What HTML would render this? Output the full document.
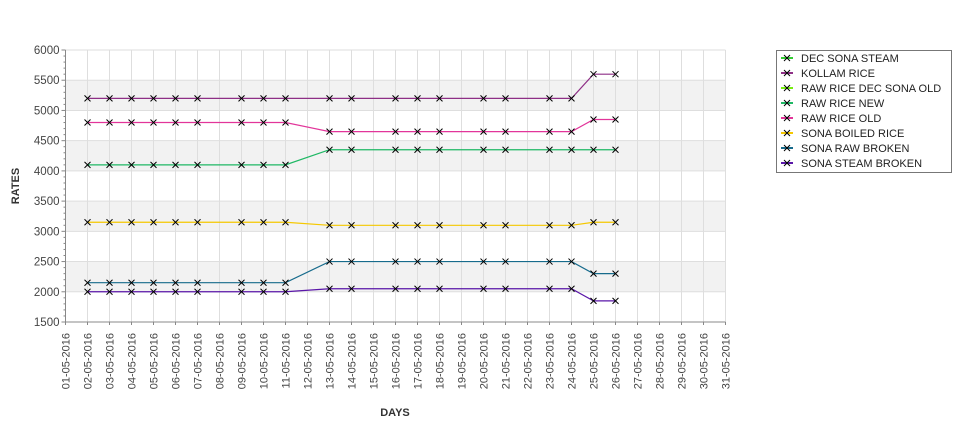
<!DOCTYPE html>
<html><head><meta charset="utf-8"><style>
body{margin:0;background:#fff;width:975px;height:429px;overflow:hidden}
svg{font-family:"Liberation Sans","DejaVu Sans",sans-serif}
</style></head><body>
<svg id="c" width="975" height="429"></svg>
<script>
const days=[2,3,4,5,6,7,9,10,11,13,14,16,17,18,20,21,23,24,25,26];
const seriesNames=["DEC SONA STEAM","KOLLAM RICE","RAW RICE DEC SONA OLD","RAW RICE NEW","RAW RICE OLD","SONA BOILED RICE","SONA RAW BROKEN","SONA STEAM BROKEN"];
const seriesColors=["#33cc33","#8e2f86","#77ee11","#1fb864","#e2359a","#f5c800","#176b8c","#5a16a8"];
const decSonaSteam=[];
const kollamRice=[5200,5200,5200,5200,5200,5200,5200,5200,5200,5200,5200,5200,5200,5200,5200,5200,5200,5200,5600,5600];
const rawRiceDecSonaOld=[];
const rawRiceNew=[4100,4100,4100,4100,4100,4100,4100,4100,4100,4350,4350,4350,4350,4350,4350,4350,4350,4350,4350,4350];
const rawRiceOld=[4800,4800,4800,4800,4800,4800,4800,4800,4800,4650,4650,4650,4650,4650,4650,4650,4650,4650,4850,4850];
const sonaBoiled=[3150,3150,3150,3150,3150,3150,3150,3150,3150,3100,3100,3100,3100,3100,3100,3100,3100,3100,3150,3150];
const sonaRawBroken=[2150,2150,2150,2150,2150,2150,2150,2150,2150,2500,2500,2500,2500,2500,2500,2500,2500,2500,2300,2300];
const sonaSteamBroken=[2000,2000,2000,2000,2000,2000,2000,2000,2000,2050,2050,2050,2050,2050,2050,2050,2050,2050,1850,1850];
const yTicks=[1500,2000,2500,3000,3500,4000,4500,5000,5500,6000];
const allSeries=[decSonaSteam,kollamRice,rawRiceDecSonaOld,rawRiceNew,rawRiceOld,sonaBoiled,sonaRawBroken,sonaSteamBroken];

const NS="http://www.w3.org/2000/svg",svg=document.getElementById('c');
const L=65.5,R=725.5,T=50,B=322;
const x=d=>L+(d-1)*(R-L)/30;
const y=v=>B-(v-1500)*(B-T)/4500;
function mk(t,a,p){const e=document.createElementNS(NS,t);for(const k in a)e.setAttribute(k,a[k]);(p||svg).appendChild(e);return e;}
// bands
for(let v=2000;v<6000;v+=1000){const r=mk('rect',{x:L,y:y(v+500),width:R-L,height:y(v)-y(v+500),fill:'#f2f2f2'});

}
// grid
for(let d=2;d<=31;d++){const g=mk('line',{x1:x(d),x2:x(d),y1:T,y2:B,stroke:'#dedede'});

}
yTicks.forEach(v=>{if(v>1500){const g=mk('line',{x1:L,x2:R,y1:y(v),y2:y(v),stroke:'#dedede'});

}});
// axes
mk('line',{x1:L,x2:L,y1:T,y2:B,stroke:'#888'});
mk('line',{x1:L,x2:R,y1:B,y2:B,stroke:'#888'});
for(let v=1500;v<=6000;v+=100){const big=v%500==0;mk('line',{x1:L-(big?4:2),x2:L,y1:y(v),y2:y(v),stroke:'#888'});}
yTicks.forEach(v=>{const t=mk('text',{x:L-6,y:y(v)+4,'text-anchor':'end','font-size':11.5,fill:'#444'});t.textContent=v;

});
for(let d=1;d<=31;d++){mk('line',{x1:x(d),x2:x(d),y1:B,y2:B+3,stroke:'#888'});
const lbl=String(d).padStart(2,'0')+'-05-2016';
const t=mk('text',{transform:`translate(${x(d)+4},${B+11}) rotate(-90)`,'text-anchor':'end','font-size':11,fill:'#444'});t.textContent=lbl;

}
const yt=mk('text',{transform:'translate(19,186) rotate(-90)','text-anchor':'middle','font-size':11,'font-weight':'bold',fill:'#333'});yt.textContent='RATES';


const xt=mk('text',{x:395,y:416,'text-anchor':'middle','font-size':11,'font-weight':'bold',fill:'#333'});xt.textContent='DAYS';


function cross(cx,cy,p){mk('path',{d:`M${cx-3},${cy-3}L${cx+3},${cy+3}M${cx-3},${cy+3}L${cx+3},${cy-3}`,stroke:'#000','stroke-width':1},p);}
allSeries.forEach((s,i)=>{if(!s.length)return;const g=mk('g',{});


mk('polyline',{points:s.map((v,j)=>x(days[j])+','+y(v)).join(' '),fill:'none',stroke:seriesColors[i],'stroke-width':1.2},g);
s.forEach((v,j)=>cross(x(days[j]),y(v),g));});
// legend
const lg=mk('g',{});


mk('rect',{x:776.5,y:50.5,width:175,height:122,fill:'#fff',stroke:'#777'},lg);
seriesNames.forEach((n,i)=>{const e=mk('g',{},lg);


const cy=58+i*15;mk('line',{x1:781,x2:793,y1:cy,y2:cy,stroke:seriesColors[i],'stroke-width':2},e);cross(787,cy,e);
const t=mk('text',{x:801,y:cy+4,'font-size':11,fill:'#222'},e);t.textContent=n;});
</script>
</body></html>
